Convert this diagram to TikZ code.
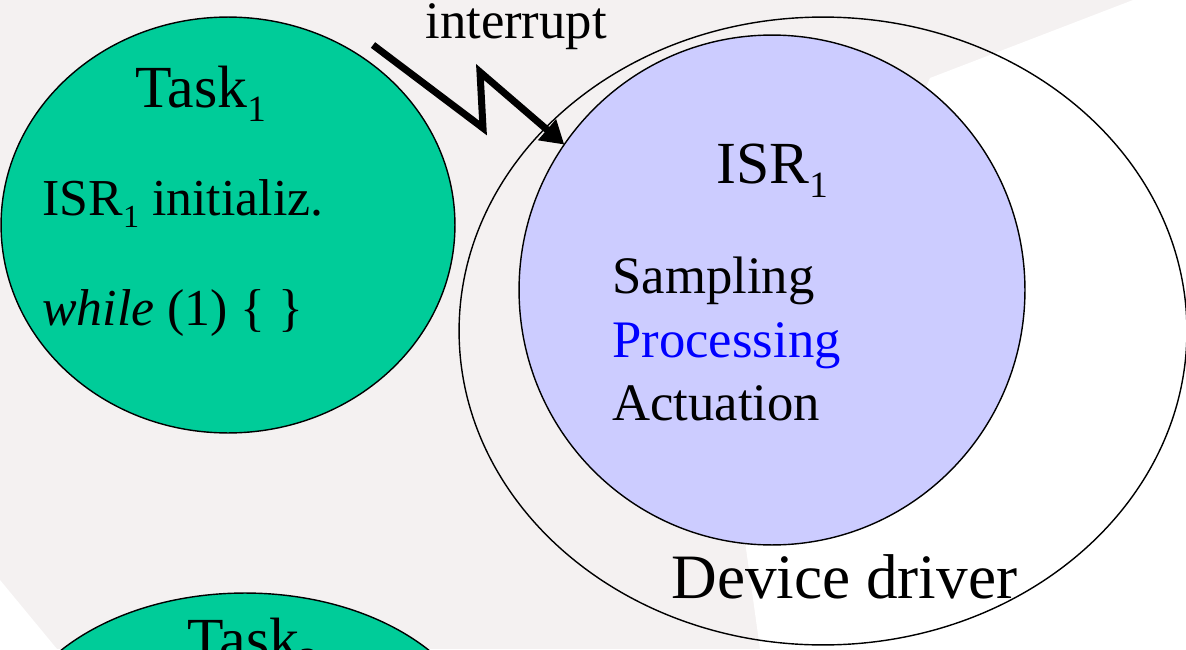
\documentclass[tikz,border=0pt]{standalone}
\usepackage{fontspec}
\setmainfont{Liberation Serif}
\usetikzlibrary{arrows.meta,shapes.geometric}
\definecolor{slidebg}{RGB}{244,241,241}
\definecolor{taskgreen}{RGB}{0,204,153}
\definecolor{isrlilac}{RGB}{204,204,255}
\definecolor{procblue}{RGB}{0,0,255}
\newcommand{\lowidx}[1]{\raisebox{-0.25em}{\scalebox{0.62}{#1}}}

\begin{document}
\begin{tikzpicture}[
  x=0.02cm, y=-0.02cm,
  blob/.style={ellipse, draw=black, line width=0.8pt, inner sep=0pt, outer sep=0pt},
  txt/.style={anchor=base west, inner sep=0pt, text=black},
  bolt/.style={-{Triangle[length=13pt,width=15pt]}, line width=4pt, black, miter limit=10}
]
\useasboundingbox (0,0) rectangle (1186,649);
\clip (0,0) rectangle (1186,649);
\fill[slidebg] (0,0) rectangle (1186,649);
\fill[white] (1133,0) -- (1186,0) -- (1186,649) -- (760,649) -- (742,520) -- (930,78) -- cycle;
\fill[white] (0,580) -- (57,649) -- (0,649) -- cycle;
\node[blob, minimum width=14.56cm, minimum height=12.56cm] (driver) at (823,331) {};
\node[blob, fill=isrlilac, minimum width=10.12cm, minimum height=10.2cm] (isr) at (772,290) {};
\node[blob, fill=taskgreen, minimum width=9.08cm, minimum height=8.32cm] (task1) at (228,225) {};
\node[blob, fill=taskgreen, minimum width=9.6cm, minimum height=6.4cm] (task2) at (245,753) {};
\node[txt, font=\fontsize{34}{40}\selectfont] (task1title) at (135,107) {Task\lowidx{1}};
\node[txt, font=\fontsize{29.5}{34}\selectfont] (task1init) at (42,215) {ISR\lowidx{1} initializ.};
\node[txt, font=\fontsize{29.5}{34}\selectfont] (task1loop) at (42,325) {\textit{while} (1) \{ \}};
\node[txt, font=\fontsize{30}{36}\selectfont] (irq) at (425,38) {interrupt};
\node[txt, font=\fontsize{34}{40}\selectfont] (isrtitle) at (716,183) {ISR\lowidx{1}};
\node[txt, font=\fontsize{30}{36}\selectfont] (samp) at (612,293) {Sampling};
\node[txt, font=\fontsize{30}{36}\selectfont, text=procblue] (proc) at (612,357) {Processing};
\node[txt, font=\fontsize{30}{36}\selectfont] (act) at (612,420) {Actuation};
\node[txt, font=\fontsize{36}{42}\selectfont] (drvname) at (671,598) {Device driver};
\node[txt, font=\fontsize{34}{40}\selectfont] (task2title) at (187,659) {Task\lowidx{2}};
\coordinate (boltA) at (373,45);
\coordinate (boltB) at (483,128);
\coordinate (boltC) at (480,72);
\draw[bolt] (boltA) -- (boltB) -- (boltC) -- (isr.145);
\end{tikzpicture}
\end{document}
